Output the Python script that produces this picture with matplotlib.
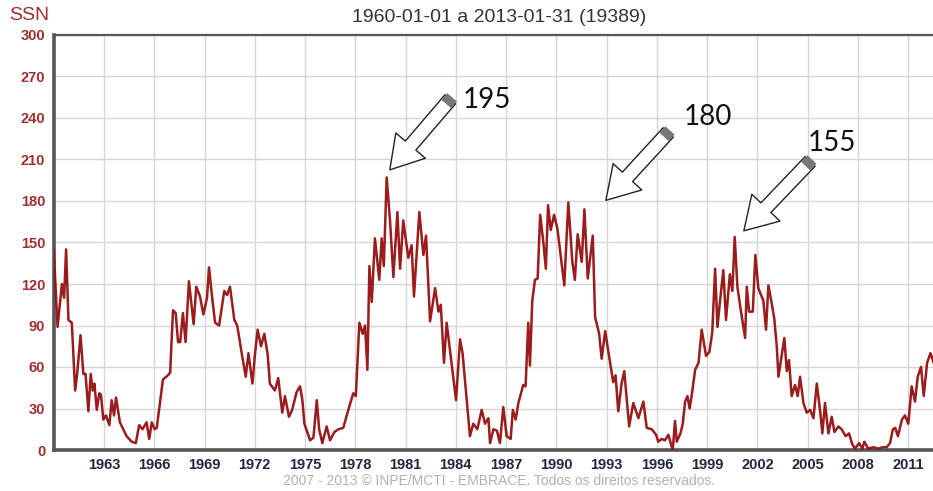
import numpy as np
import matplotlib
matplotlib.use('Agg')
import matplotlib.pyplot as plt
from matplotlib import ticker
from matplotlib.patches import FancyArrowPatch

# sunspot number (decimal year, SSN)
years = [
    1960.00, 1960.23, 1960.49, 1960.62, 1960.74, 1960.88, 1961.08, 1961.22, 1961.28, 1961.40,
    1961.60, 1961.77, 1961.90, 1962.07, 1962.21, 1962.33, 1962.43, 1962.57, 1962.72, 1962.82,
    1962.96, 1963.12, 1963.32, 1963.46, 1963.60, 1963.72, 1963.95, 1964.15, 1964.35, 1964.65,
    1964.90, 1965.10, 1965.30, 1965.54, 1965.70, 1965.85, 1966.03, 1966.15, 1966.52, 1966.82,
    1966.95, 1967.12, 1967.28, 1967.42, 1967.55, 1967.71, 1967.87, 1968.07, 1968.35, 1968.51,
    1968.73, 1968.93, 1969.15, 1969.27, 1969.43, 1969.63, 1969.87, 1970.18, 1970.35, 1970.52,
    1970.78, 1970.95, 1971.22, 1971.46, 1971.62, 1971.86, 1972.00, 1972.17, 1972.37, 1972.57,
    1972.77, 1972.90, 1973.20, 1973.40, 1973.64, 1973.80, 1974.04, 1974.23, 1974.50, 1974.70,
    1974.84, 1974.96, 1975.30, 1975.50, 1975.70, 1975.84, 1976.03, 1976.29, 1976.49, 1976.75,
    1976.99, 1977.28, 1977.58, 1977.88, 1978.03, 1978.24, 1978.44, 1978.58, 1978.72, 1978.84,
    1978.98, 1979.17, 1979.43, 1979.57, 1979.70, 1979.87, 1980.07, 1980.27, 1980.51, 1980.67,
    1980.86, 1981.16, 1981.36, 1981.50, 1981.82, 1982.06, 1982.22, 1982.46, 1982.76, 1982.96,
    1983.10, 1983.29, 1983.45, 1983.69, 1984.01, 1984.25, 1984.40, 1984.84, 1985.04, 1985.28,
    1985.54, 1985.74, 1985.94, 1986.04, 1986.24, 1986.45, 1986.63, 1986.83, 1987.03, 1987.27,
    1987.40, 1987.57, 1987.73, 1988.02, 1988.16, 1988.32, 1988.42, 1988.56, 1988.72, 1988.88,
    1989.03, 1989.23, 1989.37, 1989.50, 1989.66, 1989.86, 1990.06, 1990.26, 1990.47, 1990.71,
    1990.95, 1991.10, 1991.27, 1991.51, 1991.67, 1991.87, 1992.17, 1992.31, 1992.55, 1992.70,
    1992.91, 1993.10, 1993.39, 1993.53, 1993.69, 1993.89, 1994.05, 1994.34, 1994.59, 1994.89,
    1995.19, 1995.39, 1995.69, 1995.95, 1996.08, 1996.28, 1996.48, 1996.68, 1996.94, 1997.08,
    1997.18, 1997.40, 1997.54, 1997.68, 1997.82, 1997.95, 1998.08, 1998.28, 1998.48, 1998.67,
    1998.93, 1999.13, 1999.30, 1999.47, 1999.61, 1999.75, 1999.96, 2000.12, 2000.35, 2000.50,
    2000.64, 2000.80, 2000.99, 2001.26, 2001.36, 2001.50, 2001.72, 2001.87, 2002.05, 2002.35,
    2002.51, 2002.65, 2002.85, 2003.00, 2003.15, 2003.25, 2003.60, 2003.75, 2003.88, 2004.04,
    2004.24, 2004.40, 2004.54, 2004.74, 2004.94, 2005.14, 2005.34, 2005.54, 2005.74, 2005.87,
    2006.03, 2006.23, 2006.43, 2006.59, 2006.83, 2007.02, 2007.26, 2007.46, 2007.66, 2007.82,
    2008.06, 2008.26, 2008.37, 2008.61, 2008.91, 2009.21, 2009.45, 2009.71, 2009.91, 2010.08,
    2010.22, 2010.38, 2010.62, 2010.80, 2011.00, 2011.20, 2011.40, 2011.56, 2011.76, 2011.92,
    2012.12, 2012.32, 2012.60, 2012.85, 2013.05]
ssn = [
    145, 89, 120, 110, 145, 94, 92, 58, 43, 55,
    83, 55, 55, 28, 55, 43, 48, 29, 41, 40,
    22, 25, 18, 36, 25, 38, 20, 15, 10, 6,
    5, 18, 15, 20, 8, 20, 15, 16, 51, 54,
    56, 101, 99, 78, 78, 99, 78, 122, 91, 118,
    111, 98, 110, 132, 113, 92, 90, 115, 112, 118,
    94, 90, 70, 53, 70, 48, 68, 87, 75, 84,
    69, 48, 43, 52, 27, 39, 24, 29, 42, 46,
    36, 19, 7, 9, 36, 15, 5, 17, 7, 13,
    15, 16, 29, 41, 39, 92, 84, 90, 58, 133,
    107, 153, 123, 153, 133, 197, 166, 125, 172, 131,
    166, 139, 148, 111, 172, 141, 155, 93, 117, 100,
    105, 63, 92, 68, 36, 80, 70, 10, 19, 15,
    29, 19, 23, 5, 15, 14, 5, 31, 10, 8,
    29, 22, 34, 47, 46, 92, 61, 108, 123, 124,
    170, 149, 131, 177, 159, 170, 160, 140, 119, 179,
    136, 123, 156, 136, 174, 124, 155, 96, 84, 66,
    86, 71, 49, 54, 28, 48, 57, 17, 34, 23,
    35, 16, 15, 11, 6, 8, 7, 11, 0, 21,
    6, 12, 19, 35, 39, 30, 40, 58, 63, 87,
    68, 71, 85, 131, 89, 106, 130, 94, 127, 115,
    154, 118, 102, 81, 118, 100, 100, 141, 117, 108,
    87, 119, 106, 95, 75, 53, 81, 57, 65, 39,
    47, 39, 53, 34, 27, 29, 23, 48, 28, 12,
    34, 12, 24, 13, 17, 15, 10, 12, 4, 1,
    5, 1, 6, 1, 2, 1, 2, 2, 5, 15,
    16, 10, 22, 25, 19, 46, 35, 53, 60, 39,
    63, 70, 60, 48, 62]

# arrow annotations: label, tip (year, ssn), tail (year, ssn), text position
notes = ['195', '180', '155']
tips = [(1979.95, 201), (1992.84, 179), (2001.07, 157)]
tails = [(1983.77, 255), (1996.78, 231), (2005.25, 210)]
text_pos = [(1984.4, 253), (1997.6, 241), (2005.0, 222)]

line_color = '#960f0f'
ytick_color = '#a03030'
xtick_color = '#1e2840'

W, H = 933, 491
fig = plt.figure(figsize=(W / 100., H / 100.), dpi=100)
x0, x1 = 53.7, 943.5
ax = fig.add_axes([x0 / W, (H - 450) / H, (x1 - x0) / W, 415. / H])

ax.plot(years, ssn, color=line_color, lw=1.8, zorder=3, alpha=0.95)

ax.set_xlim(1960, 2013.1)
ax.set_ylim(0, 300)
ax.xaxis.set_major_locator(ticker.FixedLocator(np.arange(1963, 2013, 3)))
ax.xaxis.set_major_formatter(ticker.FormatStrFormatter('%d'))
ax.yaxis.set_major_locator(ticker.MultipleLocator(30))
ax.grid(color='#d6d6d6', lw=1.0, zorder=0)
ax.set_axisbelow(True)
ax.tick_params(axis='both', length=0)
ax.tick_params(axis='x', pad=6, colors=xtick_color, labelsize=10.5)
ax.tick_params(axis='y', pad=6, colors=ytick_color, labelsize=10.5)
for lab in ax.get_xticklabels() + ax.get_yticklabels():
    lab.set_fontweight('bold')
    lab.set_family('Liberation Sans')

for side in ['left', 'bottom']:
    ax.spines[side].set_linewidth(2.6)
    ax.spines[side].set_color('#555555')
ax.spines['top'].set_linewidth(1.6)
ax.spines['top'].set_color('#555555')
ax.spines['right'].set_visible(False)

fig.text(9 / W, 1 - 16 / H, 'SSN', color=ytick_color, fontsize=14,
         family='Liberation Sans', va='center', ha='left')
fig.text(499 / W, 1 - 18 / H, '1960-01-01 a 2013-01-31 (19389)', color='#333333',
         fontsize=14, family='Liberation Sans', va='center', ha='center')
fig.text(499 / W, 1 - 481 / H,
         u'2007 - 2013 \u00a9 INPE/MCTI - EMBRACE. Todos os direitos reservados.',
         color='#b0b0b0', fontsize=10, family='Liberation Sans',
         va='center', ha='center')

# hollow block arrows pointing at the cycle maxima
for lab, tip, tail, tp in zip(notes, tips, tails, text_pos):
    arr = FancyArrowPatch(tail, tip,
                          arrowstyle='simple,head_length=2.3,head_width=2.8,tail_width=1.0',
                          mutation_scale=10, fc='white', ec='#222222', lw=1.0,
                          zorder=5, clip_on=False)
    ax.add_patch(arr)
    # striped cap at the tail end
    dx, dy = tip[0] - tail[0], tip[1] - tail[1]
    ax.plot([tail[0], tail[0] + 0.09 * dx], [tail[1], tail[1] + 0.09 * dy],
            color='#777777', lw=9, solid_capstyle='butt', zorder=6, clip_on=False)
    ax.text(tp[0], tp[1], lab, fontsize=20, family='Lato', color='#111111',
            ha='left', va='center', zorder=7)

fig.savefig('out.png', dpi=100)
